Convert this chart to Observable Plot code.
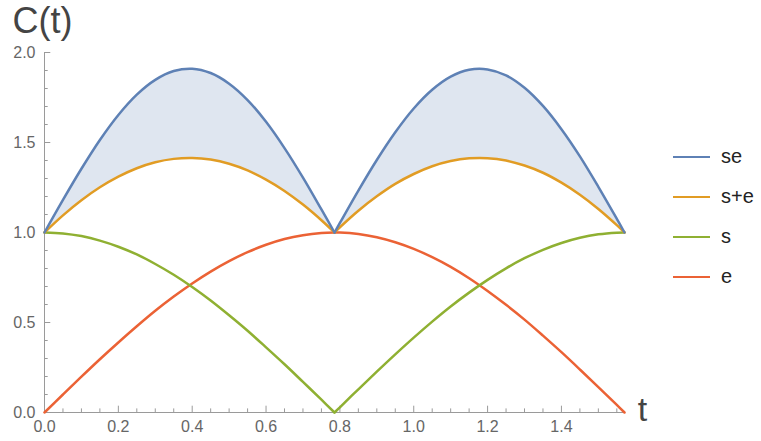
<!DOCTYPE html>
<html><head><meta charset="utf-8">
<script src="https://cdn.jsdelivr.net/npm/d3@7"></script>
<script src="https://cdn.jsdelivr.net/npm/@observablehq/plot@0.6"></script>
<style>
body{margin:0;background:#fff;font-family:"Liberation Sans",Arial,sans-serif}
#wrap{position:relative;width:761px;height:441px;overflow:hidden}
.sw{position:absolute;height:0;border-top:2.5px solid}
.lb{position:absolute;font-size:20px;color:#222;line-height:20px}
</style></head><body><div id="wrap"></div>
<script>
const tValues = [0,0.05,0.1,0.15,0.2,0.25,0.3,0.35,0.4,0.45,0.5,0.55,0.6,0.65,0.7,0.75,0.7854,
  0.8,0.85,0.9,0.95,1.0,1.05,1.1,1.15,1.2,1.25,1.3,1.35,1.4,1.45,1.5,1.55,1.5708];
const se = [1.000,1.181,1.354,1.514,1.653,1.766,1.848,1.897,1.910,1.886,1.827,1.736,1.615,1.469,1.305,1.128,1.000,
  1.053,1.233,1.403,1.557,1.689,1.793,1.866,1.904,1.906,1.873,1.804,1.703,1.574,1.423,1.254,1.076,1.000];
const sPlusE = [1.000,1.095,1.179,1.251,1.310,1.357,1.390,1.409,1.414,1.405,1.382,1.345,1.294,1.231,1.155,1.068,1.000,
  1.029,1.121,1.201,1.270,1.325,1.368,1.397,1.412,1.413,1.400,1.372,1.332,1.277,1.210,1.131,1.041,1.000];
const s = [1.000,0.995,0.980,0.955,0.921,0.878,0.825,0.765,0.697,0.622,0.540,0.454,0.362,0.268,0.170,0.071,0.000,
  0.029,0.129,0.227,0.323,0.416,0.505,0.589,0.666,0.737,0.801,0.857,0.904,0.942,0.971,0.990,0.999,1.000];
const e = [0.000,0.100,0.199,0.296,0.389,0.479,0.565,0.644,0.717,0.783,0.841,0.891,0.932,0.964,0.985,0.997,1.000,
  1.000,0.992,0.974,0.946,0.909,0.863,0.809,0.746,0.675,0.598,0.516,0.427,0.335,0.239,0.141,0.042,0.000];
const seriesNames = ["se","s+e","s","e"];
const seriesColors = ["#5E81B5","#E19C24","#8FB032","#EB6235"];
const xTicks = [0,0.2,0.4,0.6,0.8,1.0,1.2,1.4];
const xMinor = [0.05,0.1,0.15,0.25,0.3,0.35,0.45,0.5,0.55,0.65,0.7,0.75,0.85,0.9,0.95,1.05,1.1,1.15,1.25,1.3,1.35,1.45,1.5,1.55];
const yTicks = [0,0.5,1.0,1.5,2.0];
const yMinor = [0.1,0.2,0.3,0.4,0.6,0.7,0.8,0.9,1.1,1.2,1.3,1.4,1.6,1.7,1.8,1.9];
const cusp = 0.7854;

const seriesValues = [se, sPlusE, s, e];
const rows = [];
const areaRows = [];
tValues.forEach((t, i) => {
  const halves = t < cusp ? [0] : t > cusp ? [1] : [0, 1];
  halves.forEach(h => {
    seriesNames.forEach((name, k) => rows.push({t, v: seriesValues[k][i], name, z: name + h}));
    areaRows.push({t, lo: sPlusE[i], hi: se[i], z: h});
  });
});
const order = ["e","s","s+e","se"];
rows.sort((a, b) => order.indexOf(a.name) - order.indexOf(b.name));

const tickColor = "#9a9a9a";
const labelColor = "#666";
const plot = Plot.plot({
  width: 761, height: 441,
  marginLeft: 44, marginRight: 137, marginTop: 52, marginBottom: 29,
  x: {domain: [0, 1.5708], axis: null},
  y: {domain: [0, 2], axis: null},
  color: {domain: seriesNames, range: seriesColors},
  style: {fontFamily: "Liberation Sans, Arial, sans-serif", background: "white"},
  marks: [
    Plot.areaY(areaRows, {x: "t", y1: "lo", y2: "hi", z: "z", fill: "#5E81B5", fillOpacity: 0.2, curve: "catmull-rom"}),
    Plot.ruleX([0], {stroke: tickColor, strokeWidth: 1}),
    Plot.ruleY([0], {stroke: tickColor, strokeWidth: 1}),
    Plot.ruleX(xTicks, {y1: 0, y2: 0.035, stroke: tickColor}),
    Plot.ruleX(xMinor, {y1: 0, y2: 0.02, stroke: tickColor}),
    Plot.ruleY(yTicks, {x1: 0, x2: 0.017, stroke: tickColor}),
    Plot.ruleY(yMinor, {x1: 0, x2: 0.01, stroke: tickColor}),
    Plot.text(xTicks, {x: d => d, y: 0, text: d => d.toFixed(1), dy: 14, fill: labelColor, fontSize: 16}),
    Plot.text(yTicks, {x: 0, y: d => d, text: d => d.toFixed(1), dx: -9, textAnchor: "end", fill: labelColor, fontSize: 16}),
    Plot.line(rows, {x: "t", y: "v", z: "z", stroke: "name", strokeWidth: 2.5, curve: "catmull-rom"}),
    Plot.text(["C(t)"], {frameAnchor: "top-left", lineAnchor: "top", dx: -32, dy: -45, textAnchor: "start", fontSize: 36, fill: "#444"}),
    Plot.text(["t"], {frameAnchor: "bottom-right", lineAnchor: "bottom", dx: 18, dy: 8, textAnchor: "middle", fontSize: 34, fill: "#444"})
  ]
});
const wrap = document.getElementById("wrap");
wrap.appendChild(plot);
const legendY = [157, 197, 237, 277];
seriesNames.forEach((name, i) => {
  const sw = document.createElement("div");
  sw.className = "sw";
  sw.style.left = "673px"; sw.style.width = "37px";
  sw.style.top = (legendY[i] - 1) + "px";
  sw.style.borderColor = seriesColors[i];
  wrap.appendChild(sw);
  const lb = document.createElement("div");
  lb.className = "lb";
  lb.style.left = "721px"; lb.style.top = (legendY[i] - 11) + "px";
  lb.textContent = name;
  wrap.appendChild(lb);
});
</script></body></html>
